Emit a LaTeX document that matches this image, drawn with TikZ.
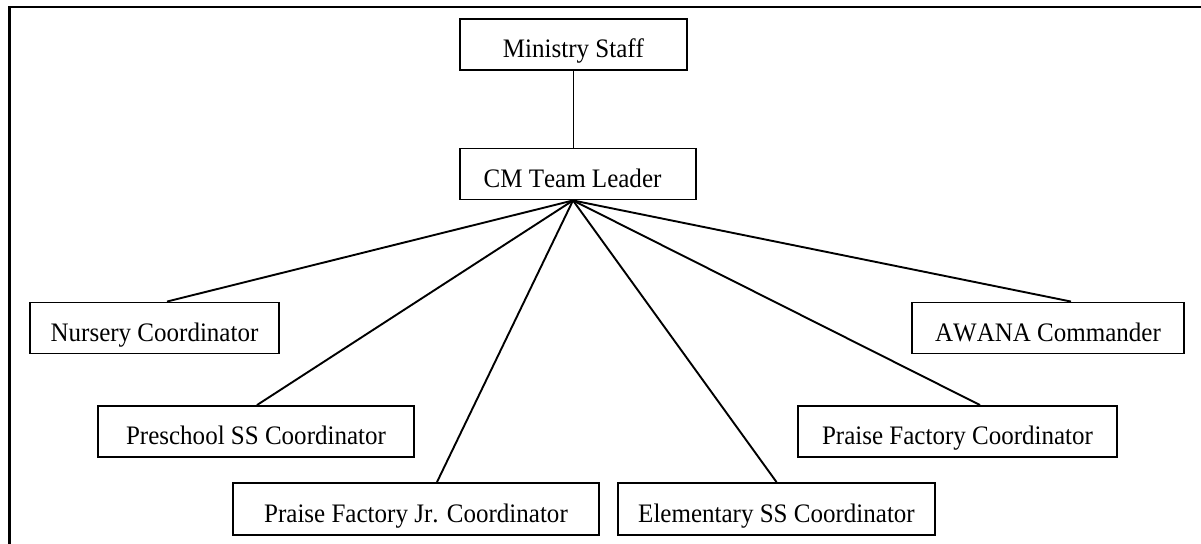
\documentclass[tikz,border=0pt]{standalone}
\usepackage{fontspec}
\setmainfont{Liberation Serif}
\newfontfamily\boxfont[FakeStretch=0.937,Kerning=Off]{Liberation Serif}
\usetikzlibrary{calc}
\begin{document}
\begin{tikzpicture}[x=1pt,y=-1pt,
  orgbox/.style={draw, line width=1.9pt, rectangle, inner sep=0pt, minimum height=51pt,
    text height=26pt, text depth=0pt, font=\boxfont\fontsize{26.7}{30}\selectfont},
  link/.style={line width=1.9pt}]
\useasboundingbox (0,0) rectangle (1201,543);
\begin{scope}
\clip (0,0) rectangle (1201,543);
\coordinate (fbl) at (9.5,560);
\coordinate (ftl) at (9.5,7);
\coordinate (ftr) at (1220,7);
\draw[line width=2.8pt] (fbl) -- (ftl) -- (ftr);
\end{scope}
\node[orgbox, minimum width=227pt] (ms) at (573.5,44.5) {Ministry Staff};
\node[orgbox, minimum width=236pt] (cm) at (578,174) {\hspace*{-11pt}CM Team Leader};
\node[orgbox, minimum width=249pt] (nur) at (154.5,328) {Nursery Coordinator};
\node[orgbox, minimum width=316pt] (pre) at (256,431.5) {Preschool SS Coordinator};
\node[orgbox, minimum width=366pt, minimum height=52pt] (pfj) at (416,509) {Praise Factory Jr. Coordinator};
\node[orgbox, minimum width=317pt, minimum height=52pt] (ele) at (776.5,509) {Elementary SS Coordinator};
\node[orgbox, minimum width=319pt] (pf) at (957.5,431.5) {Praise Factory Coordinator};
\node[orgbox, minimum width=272pt] (aw) at (1048,328) {AWANA Commander};
\coordinate (hub) at ($(cm.south)+(-5,0)$);
\draw[link] (ms.south) -- (ms.south |- cm.north);
\draw[link] (hub) -- ($(nur.north)+(12.5,0)$);
\draw[link] (hub) -- ($(pre.north)+(1,0)$);
\draw[link] (hub) -- ($(pfj.north)+(21,0)$);
\draw[link] (hub) -- (ele.north);
\draw[link] (hub) -- ($(pf.north)+(22.5,0)$);
\draw[link] (hub) -- ($(aw.north)+(23,0)$);
\end{tikzpicture}
\end{document}
